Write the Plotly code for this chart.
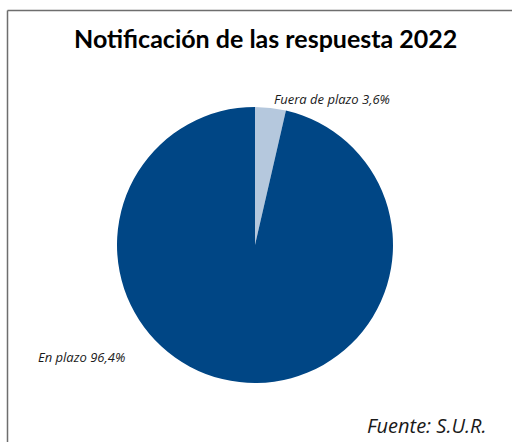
import plotly.graph_objects as go

labels = ["Fuera de plazo", "En plazo"]
values = [3.6, 96.4]
colors = ["#b5c8dd", "#004685"]
title_text = "Notificación de las respuesta 2022"
source_text = "Fuente: S.U.R."

W, H = 512, 442

fig = go.Figure(go.Pie(
    labels=labels,
    values=values,
    sort=False,
    direction="clockwise",
    rotation=0,
    marker=dict(colors=colors, line=dict(width=0)),
    textinfo="none",
    hoverinfo="label+percent",
    showlegend=False,
    domain=dict(x=[117 / W, 393 / W], y=[1 - 383 / H, 1 - 107 / H]),
))

def fmt(v):
    return f"{v:.1f}".replace(".", ",") + "%"

label_pos = [(272, 99, "left"), (36, 357, "left")]
anns = []
for (lab, val), (px, py, anc) in zip(zip(labels, values), label_pos):
    anns.append(dict(
        x=px / W, y=1 - py / H, xref="paper", yref="paper",
        text=f"<i>{lab} {fmt(val)}</i>", showarrow=False,
        xanchor=anc, yanchor="middle",
        font=dict(family="Open Sans", size=13, color="#1a1a1a"),
    ))
anns.append(dict(
    x=488 / W, y=1 - 425 / H, xref="paper", yref="paper",
    text=f"<i>{source_text}</i>", showarrow=False,
    xanchor="right", yanchor="middle",
    font=dict(family="Open Sans", size=20, color="#1a1a1a"),
))
anns.append(dict(
    x=265 / W, y=1 - 38 / H, xref="paper", yref="paper",
    text=f"<b>{title_text}</b>", showarrow=False,
    xanchor="center", yanchor="middle",
    font=dict(family="Lato", size=25, color="#000000"),
))

fig.update_layout(
    width=W, height=H,
    margin=dict(l=0, r=0, t=0, b=0),
    paper_bgcolor="white",
    plot_bgcolor="white",
    annotations=anns,
    shapes=[
        dict(type="line", xref="paper", yref="paper", x0=7.5 / W, x1=1, y0=1 - 10.5 / H, y1=1 - 10.5 / H,
             line=dict(color="#6e6e6e", width=1.5)),
        dict(type="line", xref="paper", yref="paper", x0=7.5 / W, x1=7.5 / W, y0=0, y1=1 - 10.5 / H,
             line=dict(color="#6e6e6e", width=1.5)),
    ],
)

fig.write_html("out.html")
